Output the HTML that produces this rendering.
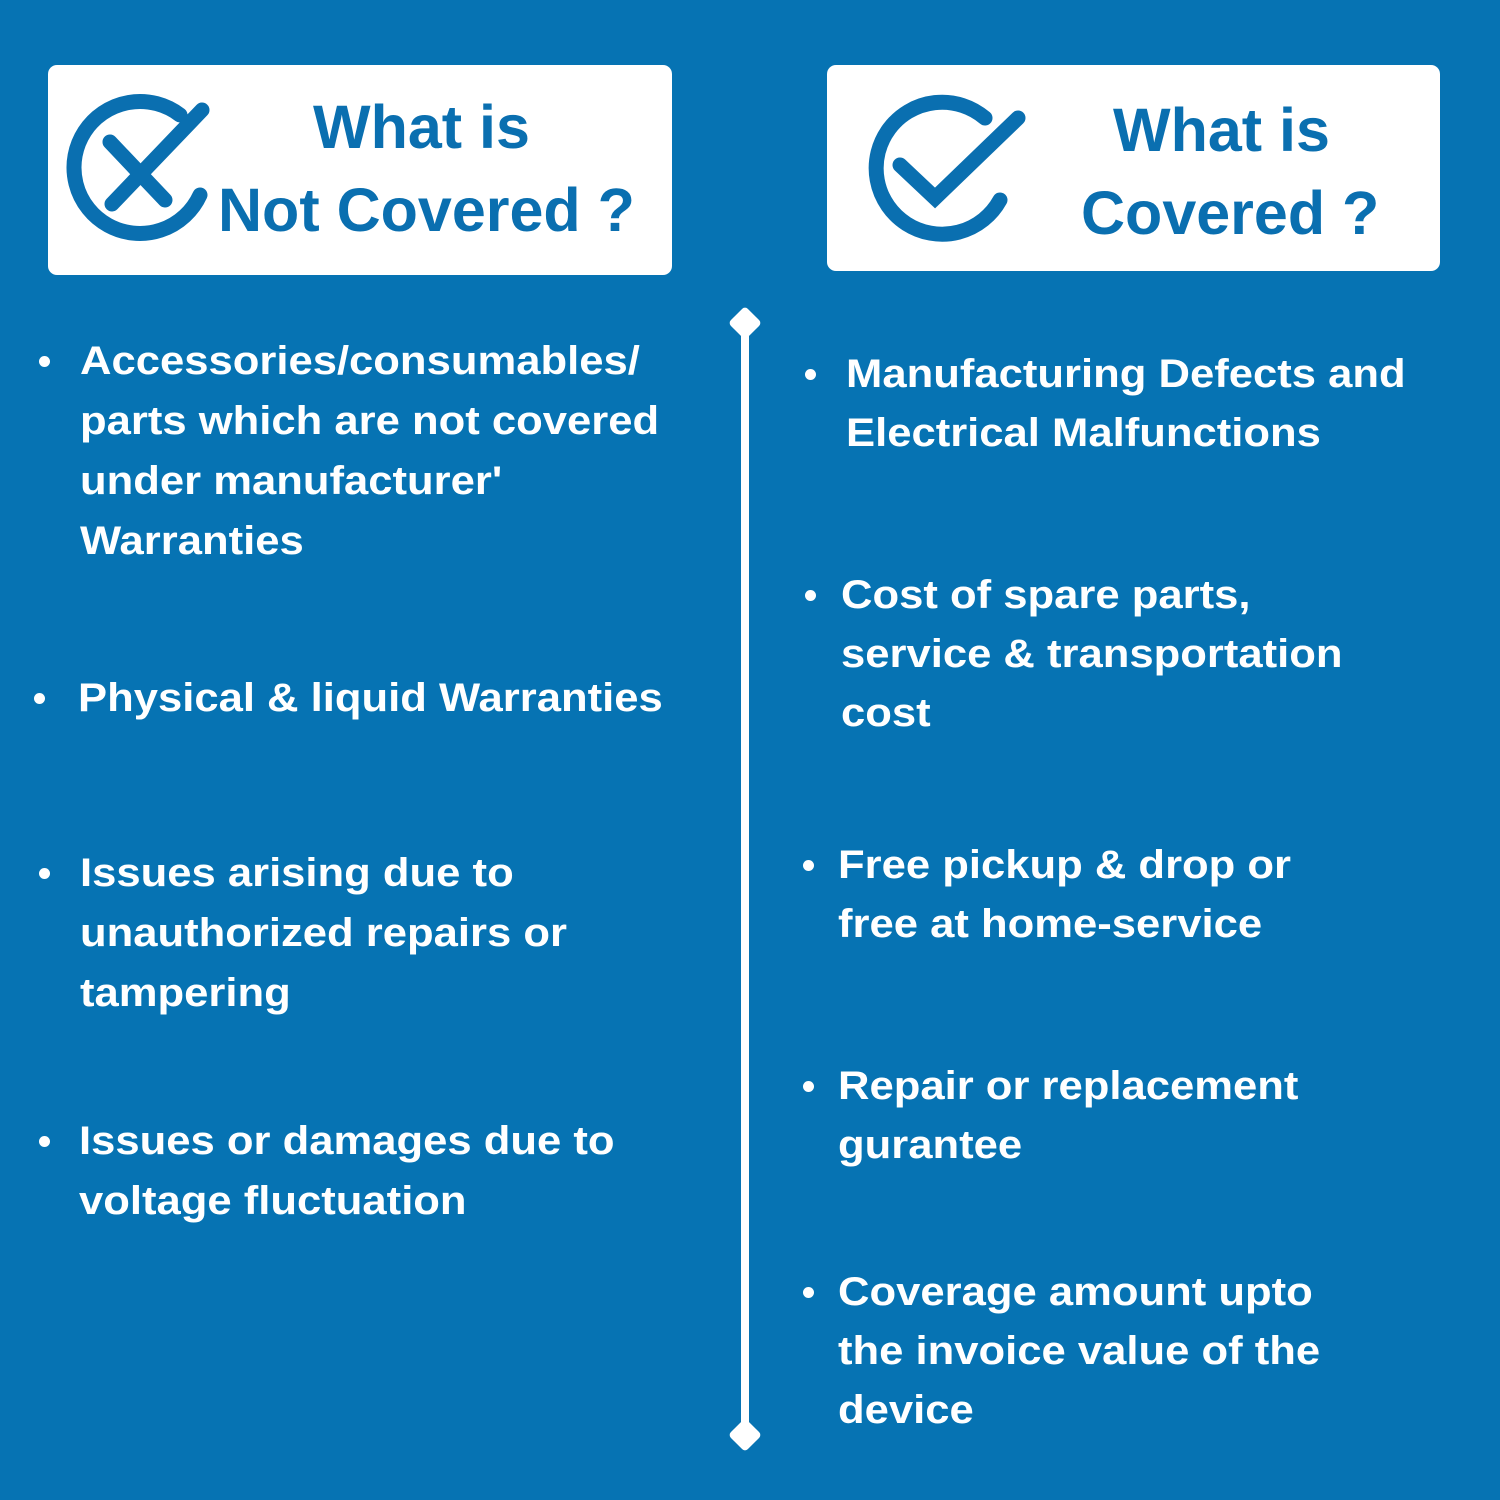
<!DOCTYPE html>
<html><head><meta charset="utf-8"><style>
body{margin:0;width:1500px;height:1500px;background:#0673b3;position:relative;overflow:hidden;font-family:"Liberation Sans",sans-serif;font-weight:bold}
.box{position:absolute;background:#fff;border-radius:9px}
.h{position:absolute;color:#0a6fb0;font-size:61px;white-space:nowrap;line-height:60px}
.t{position:absolute;color:#fff;font-size:40px;white-space:nowrap;line-height:60px;transform:scaleX(1.09);transform-origin:0 0}
.b{position:absolute;width:11px;height:11px;border-radius:50%;background:#fff}
</style></head><body>
<div class="box" style="left:48px;top:65px;width:624px;height:210px"></div>
<div class="box" style="left:827px;top:65px;width:613px;height:206px"></div>
<svg style="position:absolute;left:0;top:0" width="1500" height="1500">
<g fill="none" stroke="#0a6fb0" stroke-width="15" stroke-linecap="round">
<path d="M180,115 A66,66 0 1 0 200,195"/>
<path d="M110,142 L165,200 M112,204 L202,110"/>
<path d="M985,118 A66,66 0 1 0 1000,200"/>
<path d="M900,165 L935,198 L1018,118"/>
</g>
<rect x="741" y="325" width="8" height="1110" fill="#fff"/>
<rect x="733" y="311" width="24" height="24" rx="4" fill="#fff" transform="rotate(45 745 323)"/>
<rect x="733" y="1423" width="24" height="24" rx="4" fill="#fff" transform="rotate(45 745 1435)"/>
</svg>
<div class="h" style="left:313px;top:97px">What is</div>
<div class="h" style="left:218px;top:180px">Not Covered ?</div>
<div class="h" style="left:1113px;top:100px">What is</div>
<div class="h" style="left:1081px;top:183px">Covered ?</div>

<div class="b" style="left:39px;top:356px"></div>
<div class="t" style="left:80px;top:331px">Accessories/consumables/</div>
<div class="t" style="left:80px;top:391px">parts which are not covered</div>
<div class="t" style="left:80px;top:451px">under manufacturer'</div>
<div class="t" style="left:80px;top:511px">Warranties</div>
<div class="b" style="left:34px;top:693px"></div>
<div class="t" style="left:78px;top:668px">Physical &amp; liquid Warranties</div>
<div class="b" style="left:39px;top:868px"></div>
<div class="t" style="left:80px;top:843px">Issues arising due to</div>
<div class="t" style="left:80px;top:903px">unauthorized repairs or</div>
<div class="t" style="left:80px;top:963px">tampering</div>
<div class="b" style="left:39px;top:1136px"></div>
<div class="t" style="left:79px;top:1111px">Issues or damages due to</div>
<div class="t" style="left:79px;top:1171px">voltage fluctuation</div>

<div class="b" style="left:805px;top:369px"></div>
<div class="t" style="left:846px;top:344px">Manufacturing Defects and</div>
<div class="t" style="left:846px;top:403px">Electrical Malfunctions</div>
<div class="b" style="left:805px;top:590px"></div>
<div class="t" style="left:841px;top:565px">Cost of spare parts,</div>
<div class="t" style="left:841px;top:624px">service &amp; transportation</div>
<div class="t" style="left:841px;top:683px">cost</div>
<div class="b" style="left:803px;top:860px"></div>
<div class="t" style="left:838px;top:835px">Free pickup &amp; drop or</div>
<div class="t" style="left:838px;top:894px">free at home-service</div>
<div class="b" style="left:803px;top:1081px"></div>
<div class="t" style="left:838px;top:1056px">Repair or replacement</div>
<div class="t" style="left:838px;top:1115px">gurantee</div>
<div class="b" style="left:803px;top:1287px"></div>
<div class="t" style="left:838px;top:1262px">Coverage amount upto</div>
<div class="t" style="left:838px;top:1321px">the invoice value of the</div>
<div class="t" style="left:838px;top:1380px">device</div>
</body></html>
